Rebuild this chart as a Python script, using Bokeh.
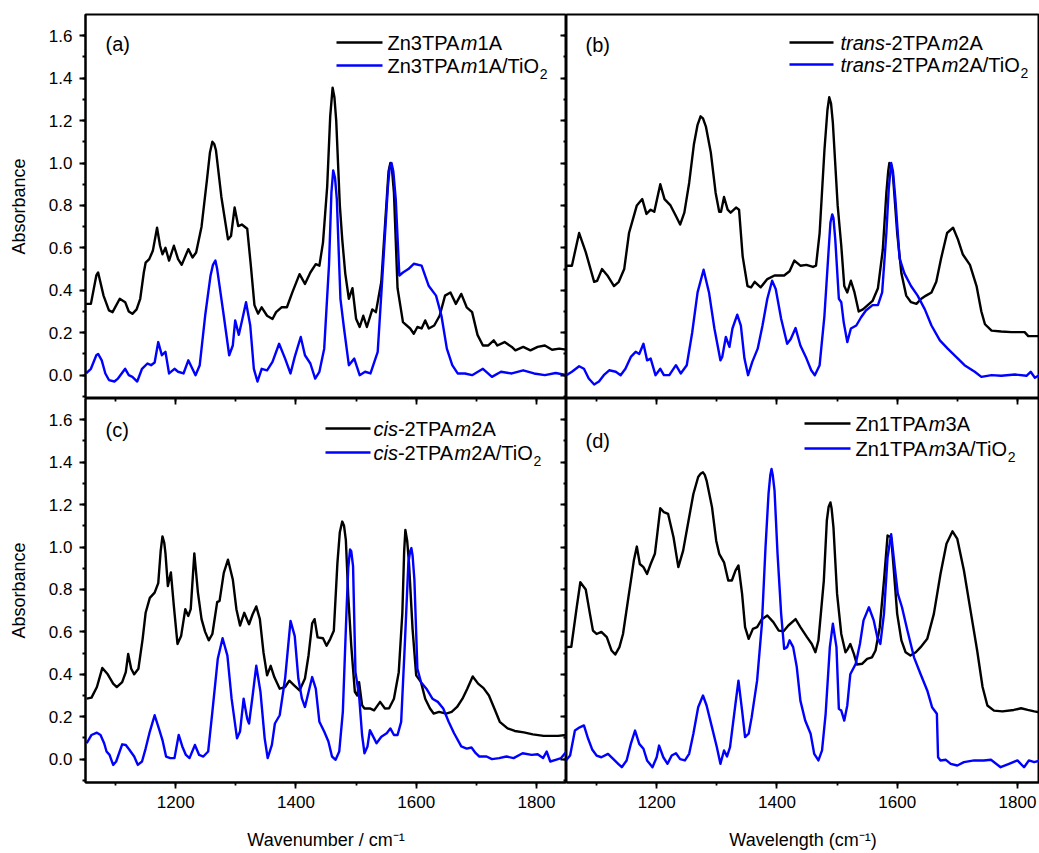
from bokeh.plotting import figure
from bokeh.layouts import gridplot
from bokeh.models import (Range1d, SingleIntervalTicker, PrintfTickFormatter,
                          CustomJSTickFormatter, LinearAxis, Label, Arrow)
from bokeh.embed import file_html
from bokeh.resources import INLINE

# ---------------- data ----------------
wn_a_dye = [1051,1059,1068,1071,1080,1089,1095,1107,1116,1122,1128,1135,1141,1147,1150,1156,1162,1169,1174,1178,
            1183,1189,1197,1204,1210,1221,1228,1234,1243,1252,1261,1267,1276,1287,1292,1298,1304,1310,1319,1325,
            1331,1337,1343,1352,1361,1367,1376,1385,1394,1406,1415,1424,1433,1439,1445,1452,1461,1467,1473,1477,
            1482,1488,1494,1500,1506,1512,1518,1527,1533,1542,1551,1557,1563,1569,1578,1590,1596,1602,1609,1615,
            1621,1630,1639,1648,1657,1666,1675,1684,1693,1702,1711,1720,1729,1735,1747,1759,1765,1778,1790,1802,
            1814,1826,1838,1850]
abs_a_dye = [0.336,0.336,0.47,0.484,0.375,0.305,0.297,0.36,0.344,0.30,
             0.289,0.31,0.36,0.484,0.53,0.547,0.586,0.695,0.61,0.57,
             0.60,0.54,0.61,0.547,0.52,0.594,0.555,0.578,0.70,0.92,
             1.10,1.06,0.84,0.64,0.656,0.79,0.703,0.71,0.69,0.516,
             0.33,0.29,0.32,0.28,0.265,0.297,0.32,0.32,0.39,0.476,
             0.43,0.484,0.523,0.516,0.625,0.89,1.355,1.20,0.80,0.64,
             0.48,0.36,0.41,0.266,0.227,0.28,0.227,0.31,0.297,0.44,
             0.83,1.00,0.86,0.41,0.25,0.22,0.195,0.227,0.22,0.258,
             0.22,0.234,0.28,0.375,0.39,0.336,0.383,0.32,0.297,0.19,
             0.14,0.14,0.164,0.14,0.156,0.133,0.117,0.133,0.117,0.133,
             0.14,0.12,0.125,0.12]
wn_a_dye_tops = [1257, 1264, 1457, 1464, 1554, 1560]
abs_a_dye_tops = [1.05, 1.09, 1.22, 1.31, 0.96, 0.96]
wn_a_tio2 = [1051,1059,1068,1071,1077,1083,1089,1098,1104,1116,1122,1128,1136,1144,1153,1159,1165,1171,1177,1183,
             1189,1198,1204,1213,1221,1225,1233,1240,1249,1258,1266,1273,1279,1289,1295,1299,1305,1311,1317,1324,
             1330,1336,1343,1352,1361,1372,1382,1391,1398,1408,1415,1424,1432,1439,1447,1455,1462,1468,1474,1480,
             1488,1497,1506,1515,1524,1536,1545,1553,1559,1566,1572,1578,1587,1596,1609,1621,1633,1642,1651,1660,
             1669,1681,1693,1711,1726,1741,1759,1778,1796,1814,1832,1850]
abs_a_tio2 = [0.008,0.03,0.094,0.10,0.07,0.008,-0.023,-0.03,-0.016,0.03,
              0.0,-0.008,-0.03,0.03,0.055,0.047,0.06,0.156,0.094,0.11,
              0.008,0.03,0.016,0.008,0.07,0.047,0.0,0.047,0.28,0.47,
              0.54,0.42,0.30,0.094,0.14,0.258,0.19,0.266,0.344,0.234,
              0.03,-0.03,0.03,0.023,0.0625,0.148,0.078,0.008,0.086,0.18,
              0.094,0.055,-0.016,0.016,0.125,0.52,0.965,0.83,0.36,0.22,
              0.047,0.078,0.0,0.016,0.008,0.11,0.52,0.89,1.0,0.83,
              0.47,0.484,0.50,0.525,0.516,0.42,0.375,0.28,0.125,0.047,
              0.008,0.008,0.0,0.03,-0.008,0.016,0.008,0.023,0.008,0.0,
              0.01,0.0]
wn_a_tio2_tops = [1262, 1269, 1459, 1465, 1556, 1562]
abs_a_tio2_tops = [0.52, 0.50, 0.86, 0.93, 0.98, 0.96]

wn_b_dye = [1050,1059,1071,1082,1096,1101,1109,1118,1129,1137,1146,1154,1159,1167,1176,1183,1190,1196,1206,1213,
            1223,1232,1239,1246,1254,1262,1273,1282,1290,1298,1304,1307,1312,1318,1323,1332,1337,1343,1351,1357,
            1363,1373,1384,1396,1412,1421,1429,1439,1449,1460,1465,1471,1479,1487,1493,1501,1507,1512,1517,1523,
            1529,1536,1543,1551,1559,1568,1576,1582,1587,1593,1600,1607,1615,1623,1632,1640,1648,1657,1665,1673,
            1683,1693,1701,1709,1721,1732,1740,1746,1757,1773,1790,1812,1818,1838,1850]
abs_b_dye = [0.516,0.516,0.67,0.58,0.44,0.445,0.50,0.47,0.42,0.44,
             0.50,0.67,0.72,0.80,0.83,0.76,0.78,0.77,0.90,0.83,
             0.80,0.75,0.71,0.766,0.906,1.09,1.22,1.17,1.05,0.86,
             0.77,0.77,0.84,0.78,0.766,0.79,0.78,0.56,0.42,0.414,
             0.44,0.414,0.453,0.47,0.47,0.49,0.54,0.516,0.52,0.51,
             0.516,0.67,1.06,1.31,1.19,0.80,0.61,0.42,0.39,0.445,
             0.39,0.30,0.31,0.33,0.35,0.41,0.59,0.86,1.0,0.94,
             0.67,0.48,0.375,0.344,0.336,0.36,0.375,0.39,0.44,0.55,
             0.67,0.695,0.64,0.57,0.52,0.42,0.30,0.24,0.21,0.206,
             0.203,0.203,0.184,0.184,0.184]
wn_b_dye_tops = [1268, 1277, 1484, 1490, 1585, 1590]
abs_b_dye_tops = [1.18, 1.21, 1.25, 1.28, 0.96, 0.99]
wn_b_tio2 = [1050,1059,1071,1079,1087,1096,1104,1112,1121,1132,1140,1148,1157,1165,1171,1178,1184,1190,1198,1206,
             1212,1221,1232,1240,1250,1259,1268,1278,1287,1296,1306,1309,1315,1321,1326,1334,1340,1346,1352,1359,
             1368,1376,1384,1392,1398,1407,1417,1423,1431,1439,1448,1457,1463,1471,1479,1486,1492,1497,1503,1507,
             1511,1517,1523,1532,1540,1548,1559,1568,1575,1582,1590,1597,1604,1612,1623,1634,1646,1657,1671,1684,
             1701,1712,1729,1740,1757,1773,1796,1815,1822,1829,1838,1850]
abs_b_tio2 = [0.0,0.016,0.042,0.03,-0.016,-0.044,-0.03,0.0,0.023,0.016,
              0.0,0.03,0.086,0.11,0.10,0.148,0.07,0.078,0.0,0.03,
              0.0,0.0,0.047,0.008,0.047,0.20,0.39,0.497,0.39,0.22,
              0.07,0.086,0.18,0.133,0.22,0.285,0.234,0.078,0.0,0.0625,
              0.125,0.234,0.36,0.445,0.406,0.266,0.148,0.17,0.222,0.14,
              0.086,0.023,0.0,0.047,0.28,0.59,0.758,0.64,0.36,0.344,
              0.25,0.156,0.22,0.234,0.273,0.305,0.33,0.33,0.39,0.67,
              1.0,0.83,0.55,0.48,0.42,0.375,0.31,0.234,0.164,0.125,
              0.078,0.047,0.016,-0.008,0.0,-0.003,0.003,-0.003,0.016,-0.012,
              0.003,0.0]
wn_b_tio2_tops = [1489, 1494, 1586, 1593]
abs_b_tio2_tops = [0.72, 0.74, 0.88, 0.96]

wn_c_dye = [1052,1060,1069,1078,1087,1096,1102,1111,1117,1121,1126,1131,1138,1145,1150,1157,1165,1171,1178,1183,
            1187,1192,1197,1203,1209,1216,1221,1225,1231,1237,1243,1249,1255,1261,1269,1273,1280,1287,1295,1301,
            1307,1314,1322,1328,1334,1340,1346,1352,1358,1364,1373,1382,1389,1397,1406,1415,1421,1427,1431,1436,
            1445,1451,1457,1463,1469,1477,1483,1487,1492,1498,1502,1505,1510,1514,1523,1530,1540,1548,1555,1563,
            1571,1577,1582,1588,1594,1600,1608,1615,1623,1629,1638,1650,1659,1668,1677,1685,1694,1703,1712,1721,
            1730,1739,1752,1764,1779,1794,1812,1836,1850]
abs_c_dye = [0.285,0.29,0.34,0.43,0.40,0.356,0.34,0.363,0.41,0.496,
             0.426,0.40,0.426,0.566,0.69,0.76,0.785,0.83,1.05,0.97,
             0.816,0.88,0.72,0.543,0.58,0.707,0.675,0.707,0.97,0.785,
             0.66,0.60,0.56,0.59,0.74,0.746,0.878,0.94,0.847,0.707,
             0.63,0.69,0.636,0.683,0.72,0.66,0.504,0.395,0.44,0.387,
             0.332,0.34,0.37,0.348,0.324,0.38,0.49,0.64,0.66,0.574,
             0.57,0.535,0.566,0.605,0.925,1.12,1.034,0.77,0.535,0.317,
             0.30,0.363,0.254,0.239,0.239,0.23,0.27,0.239,0.24,0.285,
             0.41,0.69,1.08,0.925,0.613,0.395,0.363,0.285,0.239,0.215,
             0.223,0.215,0.223,0.246,0.285,0.332,0.39,0.356,0.335,0.30,
             0.239,0.176,0.145,0.133,0.126,0.117,0.11,0.11,0.114]
wn_c_dye_tops = [1175, 1181, 1473, 1480, 1580, 1585]
abs_c_dye_tops = [0.98, 1.02, 1.07, 1.10, 0.98, 1.03]
wn_c_tio2 = [1052,1060,1069,1075,1081,1085,1090,1096,1101,1111,1117,1123,1131,1137,1144,1150,1157,1165,1172,1178,
             1184,1191,1198,1205,1211,1217,1223,1232,1239,1246,1254,1261,1270,1278,1286,1293,1302,1307,1313,1319,
             1322,1328,1334,1341,1348,1353,1360,1365,1373,1382,1391,1398,1404,1410,1415,1421,1427,1433,1439,1447,
             1454,1460,1466,1472,1478,1484,1490,1495,1499,1505,1510,1514,1519,1523,1530,1534,1542,1551,1557,1563,
             1569,1575,1581,1587,1592,1597,1602,1608,1617,1627,1636,1645,1654,1663,1675,1684,1692,1699,1705,1717,
             1726,1738,1750,1762,1777,1792,1802,1811,1817,1823,1832,1841,1850]
abs_c_tio2 = [0.075,0.114,0.125,0.114,0.075,0.036,0.02,-0.027,-0.011,0.07,
              0.067,0.044,0.0125,-0.027,-0.011,0.05,0.13,0.207,0.145,0.09,
              0.0125,0.005,0.005,0.114,0.06,0.02,0.005,0.067,0.02,0.0125,
              0.036,0.223,0.473,0.57,0.488,0.285,0.098,0.13,0.285,0.19,
              0.168,0.30,0.44,0.317,0.098,0.005,0.067,0.168,0.207,0.38,
              0.652,0.58,0.38,0.285,0.246,0.317,0.387,0.332,0.176,0.13,
              0.083,0.0125,-0.003,0.036,0.223,0.69,0.988,0.91,0.41,0.30,
              0.114,0.028,0.06,0.137,0.098,0.075,0.106,0.122,0.145,0.114,
              0.114,0.176,0.535,0.925,0.995,0.847,0.426,0.363,0.332,0.285,
              0.27,0.239,0.176,0.122,0.06,0.05,0.055,0.028,0.0125,0.0125,
              0.0,0.005,0.0125,0.005,0.028,0.02,0.023,0.005,0.036,-0.011,
              -0.003,0.005,0.036]
wn_c_tio2_tops = [1487, 1492, 1590, 1594]
abs_c_tio2_tops = [0.90, 0.98, 0.98, 0.96]

wn_d_dye = [1049,1058,1067,1073,1082,1089,1094,1100,1108,1117,1125,1131,1138,1144,1153,1158,1162,1167,1172,1178,
            1184,1190,1197,1201,1206,1212,1219,1228,1236,1244,1253,1261,1269,1277,1283,1292,1299,1304,1312,1319,
            1325,1331,1336,1342,1347,1353,1360,1367,1375,1384,1394,1403,1411,1419,1431,1439,1450,1458,1464,1469,
            1478,1483,1489,1494,1500,1507,1514,1518,1522,1528,1533,1542,1550,1558,1564,1571,1578,1584,1590,1594,
            1600,1607,1614,1622,1631,1639,1650,1661,1672,1682,1692,1700,1711,1722,1733,1742,1750,1761,1775,1794,
            1806,1817,1828,1837,1850]
abs_d_dye = [0.528,0.53,0.716,0.834,0.80,0.685,0.606,0.59,0.60,0.575,
             0.512,0.493,0.528,0.59,0.763,0.858,0.936,1.002,0.92,0.905,
             0.873,0.92,0.968,1.062,1.183,1.164,1.156,1.046,0.905,0.983,
             1.125,1.25,1.33,1.352,1.313,1.188,1.03,0.968,0.928,0.842,
             0.842,0.889,0.913,0.78,0.622,0.567,0.614,0.622,0.66,0.677,
             0.646,0.606,0.603,0.63,0.66,0.622,0.575,0.543,0.504,0.559,
             0.842,1.125,1.21,1.093,0.78,0.59,0.504,0.52,0.543,0.496,
             0.446,0.45,0.473,0.48,0.512,0.622,0.842,1.054,1.046,0.905,
             0.685,0.56,0.504,0.489,0.504,0.528,0.567,0.685,0.873,1.015,
             1.074,1.038,0.889,0.70,0.512,0.34,0.253,0.229,0.225,0.232,
             0.24,0.232,0.225,0.221,0.22]
wn_d_dye_tops = [1273, 1280, 1486, 1491]
abs_d_dye_tops = [1.345, 1.34, 1.19, 1.18]
wn_d_tio2 = [1049,1056,1064,1072,1079,1086,1093,1100,1108,1119,1128,1136,1142,1150,1157,1164,1171,1178,1184,1193,
             1200,1204,1211,1218,1225,1232,1239,1247,1254,1261,1269,1277,1283,1292,1300,1306,1312,1317,1322,1331,
             1336,1342,1347,1353,1358,1367,1375,1381,1386,1391,1396,1401,1407,1412,1417,1421,1427,1433,1439,1447,
             1456,1462,1469,1475,1481,1488,1493,1499,1503,1507,1512,1517,1522,1531,1538,1544,1553,1561,1567,1572,
             1578,1584,1590,1596,1601,1608,1617,1628,1639,1650,1658,1666,1668,1672,1681,1689,1700,1711,1728,1744,
             1756,1772,1786,1800,1811,1819,1828,1837,1850]
abs_d_tio2 = [-0.006,0.017,0.135,0.15,0.159,0.096,0.044,0.017,0.009,0.025,
              0.0,-0.022,-0.038,-0.006,0.072,0.135,0.072,0.049,-0.006,-0.038,
              0.009,0.064,0.009,-0.022,0.017,0.028,0.0,-0.006,0.025,0.12,
              0.245,0.30,0.253,0.15,0.057,-0.022,0.041,0.013,0.057,0.26,
              0.37,0.23,0.104,0.12,0.198,0.37,0.638,0.999,1.25,1.368,
              1.266,0.968,0.685,0.52,0.528,0.56,0.528,0.434,0.276,0.182,
              0.12,0.025,-0.006,0.041,0.214,0.528,0.638,0.528,0.237,0.229,
              0.182,0.253,0.40,0.449,0.543,0.654,0.716,0.654,0.575,0.543,
              0.685,0.952,1.06,0.905,0.78,0.716,0.606,0.48,0.40,0.324,
              0.245,0.214,0.009,-0.006,-0.003,-0.022,-0.03,-0.014,-0.006,-0.006,
              -0.003,-0.038,-0.022,-0.006,-0.038,-0.006,-0.014,-0.006,-0.006]
wn_d_tio2_tops = [1389, 1393]
abs_d_tio2_tops = [1.34, 1.34]

# legend texts: (segment, style) -- "sub" = subscript
legend_a = [[("Zn3TPA", "normal"), ("m", "italic"), ("1A", "normal")],
            [("Zn3TPA", "normal"), ("m", "italic"), ("1A/TiO", "normal"), ("2", "sub")]]
legend_b = [[("trans", "italic"), ("-2TPA", "normal"), ("m", "italic"), ("2A", "normal")],
            [("trans", "italic"), ("-2TPA", "normal"), ("m", "italic"), ("2A/TiO", "normal"), ("2", "sub")]]
legend_c = [[("cis", "italic"), ("-2TPA", "normal"), ("m", "italic"), ("2A", "normal")],
            [("cis", "italic"), ("-2TPA", "normal"), ("m", "italic"), ("2A/TiO", "normal"), ("2", "sub")]]
legend_d = [[("Zn1TPA", "normal"), ("m", "italic"), ("3A", "normal")],
            [("Zn1TPA", "normal"), ("m", "italic"), ("3A/TiO", "normal"), ("2", "sub")]]
panel_tags = ["(a)", "(b)", "(c)", "(d)"]
xtitle_left = "Wavenumber / cm\u207b\u00b9"
xtitle_right = "Wavelength (cm\u207b\u00b9)"
ytitle = "Absorbance"

# ---------------- layout / style ----------------
FONT = "Liberation Sans"
BLACK, BLUE = "#000000", "#0000ff"
LW = 2.4
X0, X1 = 1050.0, 1850.0
Y0, Y1 = -0.11, 1.70
FW, FWR, FH = 481, 473, 384
XS = FW / (X1 - X0)
YS = FH / (Y1 - Y0)
X1R = X0 + FWR / XS
LEFT, TOP, BOTTOM = 85, 14, 71
PXL, PXR, PYT, PYB = 85, 566, 14, 398   # page coords of frame corners

W = {'W': 944, 'a': 556, 'v': 500, 'e': 556, 'n': 556, 'u': 556, 'm': 833, 'b': 556, 'r': 333,
     ' ': 278, '/': 278, 'c': 500, 'l': 222, 'g': 556, 't': 278, 'h': 556, '(': 333, ')': 333,
     '-': 333, '1': 556, '2': 556, '3': 556, 'Z': 611, 'T': 611, 'P': 667, 'A': 667, 'i': 222,
     'O': 778, 's': 500}


def merged(xs, ys, xt_, yt_):
    pts = sorted(zip(list(xs) + list(xt_), list(ys) + list(yt_)))
    return [p[0] for p in pts], [p[1] for p in pts]


def tw(s, size):
    return sum(W.get(ch, 556) for ch in s) * size / 1000.0


def dx(px, fl):
    return X0 + (px - fl) / XS


def dy(py, ft):
    return Y1 - (py - ft) / YS


def base_fig(right, bottom_row):
    p = figure(width=(FWR if right else LEFT + FW), height=FH + (BOTTOM if bottom_row else TOP),
               x_range=Range1d(X0, X1R if right else X1), y_range=Range1d(Y0, Y1),
               x_axis_location=None, y_axis_location=None,
               output_backend="svg", toolbar_location=None,
               min_border_left=0 if right else LEFT, min_border_right=0,
               min_border_top=0 if bottom_row else TOP,
               min_border_bottom=BOTTOM if bottom_row else 0)
    p.grid.visible = False
    p.outline_line_color = "black"
    p.outline_line_width = 2
    p.background_fill_color = "white"
    p.border_fill_color = "white"
    return p


def outer_axis(ticker, fmt):
    ax = LinearAxis(ticker=ticker, formatter=fmt)
    ax.axis_line_color = "black"
    ax.axis_line_width = 2
    ax.major_tick_line_width = 1.8
    ax.minor_tick_line_width = 1.8
    ax.major_tick_out = 6
    ax.major_tick_in = 0
    ax.minor_tick_out = 3
    ax.minor_tick_in = 0
    ax.major_label_text_font = FONT
    ax.major_label_text_font_size = "17px"
    ax.major_label_text_color = "black"
    ax.major_label_standoff = 7
    ax.axis_label_text_font = FONT
    ax.axis_label_text_font_size = "18px"
    ax.axis_label_text_font_style = "normal"
    ax.axis_label_text_color = "black"
    return ax


def inner_axis(ticker):
    ax = LinearAxis(ticker=ticker, formatter=CustomJSTickFormatter(code="return ''"))
    ax.axis_line_color = None
    ax.major_tick_line_width = 1.8
    ax.minor_tick_line_width = 1.8
    ax.major_tick_in = 6
    ax.major_tick_out = 0
    ax.minor_tick_in = 3
    ax.minor_tick_out = 0
    ax.major_label_text_font_size = "0px"
    ax.major_label_standoff = 0
    return ax


def xt():
    return SingleIntervalTicker(interval=200, num_minor_ticks=2)


def yt():
    return SingleIntervalTicker(interval=0.2, num_minor_ticks=2)


def rich(p, x, y, parts, size, sub_size=14, shift=8):
    off = 0.0
    for txt, kind in parts:
        if kind == "sub":
            fs, yy, style = sub_size, y - shift / YS, "normal"
        else:
            fs, yy, style = size, y, kind
        p.add_layout(Label(x=x, y=yy, x_offset=off, text=txt, text_font=FONT,
                           text_font_size=f"{fs}px", text_font_style=style,
                           text_baseline="middle", text_align="left", text_color="black"))
        off += tw(txt, fs)


def legend(p, fl, ft, line_px, text_px, rows_py, entries):
    for py, parts, col in zip(rows_py, entries, [BLACK, BLUE]):
        y = dy(py, ft)
        p.add_layout(Arrow(end=None, x_start=dx(line_px[0], fl), y_start=y,
                           x_end=dx(line_px[1], fl), y_end=y, line_color=col, line_width=LW))
        rich(p, dx(text_px, fl), y, parts, 20)


def tag(p, fl, ft, px, py, text):
    p.add_layout(Label(x=dx(px, fl), y=dy(py, ft), text=text, text_font=FONT, text_font_size="20px",
                       text_baseline="middle", text_align="left", text_color="black"))


def spectra(p, dye, tio2):
    xs, ys = merged(*dye)
    p.line(xs, ys, line_color=BLACK, line_width=LW, line_join="round")
    xs, ys = merged(*tio2)
    p.line(xs, ys, line_color=BLUE, line_width=LW, line_join="round")


yfmt = PrintfTickFormatter(format="%.1f")
xfmt = PrintfTickFormatter(format="%d")

# (a)
pa = base_fig(False, False)
ax = outer_axis(yt(), yfmt)
ax.axis_label = ytitle
ax.axis_label_standoff = 17
pa.add_layout(ax, "left")
pa.add_layout(inner_axis(yt()), "right")
spectra(pa, (wn_a_dye, abs_a_dye, wn_a_dye_tops, abs_a_dye_tops),
        (wn_a_tio2, abs_a_tio2, wn_a_tio2_tops, abs_a_tio2_tops))
legend(pa, PXL, PYT, (336, 382), 387, (42, 65), legend_a)
tag(pa, PXL, PYT, 105, 43, panel_tags[0])

# (b)
pb = base_fig(True, False)
spectra(pb, (wn_b_dye, abs_b_dye, wn_b_dye_tops, abs_b_dye_tops),
        (wn_b_tio2, abs_b_tio2, wn_b_tio2_tops, abs_b_tio2_tops))
legend(pb, PXR, PYT, (789, 833), 840, (42, 64), legend_b)
tag(pb, PXR, PYT, 585, 44, panel_tags[1])

# (c)
pc = base_fig(False, True)
ax = outer_axis(yt(), yfmt)
ax.axis_label = ytitle
ax.axis_label_standoff = 17
pc.add_layout(ax, "left")
bx = outer_axis(xt(), xfmt)
bx.axis_label = xtitle_left
bx.axis_label_standoff = 19
pc.add_layout(bx, "below")
pc.add_layout(inner_axis(xt()), "above")
pc.add_layout(inner_axis(yt()), "right")
spectra(pc, (wn_c_dye, abs_c_dye, wn_c_dye_tops, abs_c_dye_tops),
        (wn_c_tio2, abs_c_tio2, wn_c_tio2_tops, abs_c_tio2_tops))
legend(pc, PXL, PYB, (325, 370), 373, (428, 452), legend_c)
tag(pc, PXL, PYB, 105, 429, panel_tags[2])

# (d)
pd = base_fig(True, True)
bx = outer_axis(xt(), xfmt)
bx.axis_label = xtitle_right
bx.axis_label_standoff = 19
pd.add_layout(bx, "below")
pd.add_layout(inner_axis(xt()), "above")
spectra(pd, (wn_d_dye, abs_d_dye, wn_d_dye_tops, abs_d_dye_tops),
        (wn_d_tio2, abs_d_tio2, wn_d_tio2_tops, abs_d_tio2_tops))
legend(pd, PXR, PYB, (804, 850), 855, (423, 448), legend_d)
tag(pd, PXR, PYB, 585, 440, panel_tags[3])

grid = gridplot([[pa, pb], [pc, pd]], toolbar_location=None)
open("out.html", "w").write(file_html(grid, INLINE))
